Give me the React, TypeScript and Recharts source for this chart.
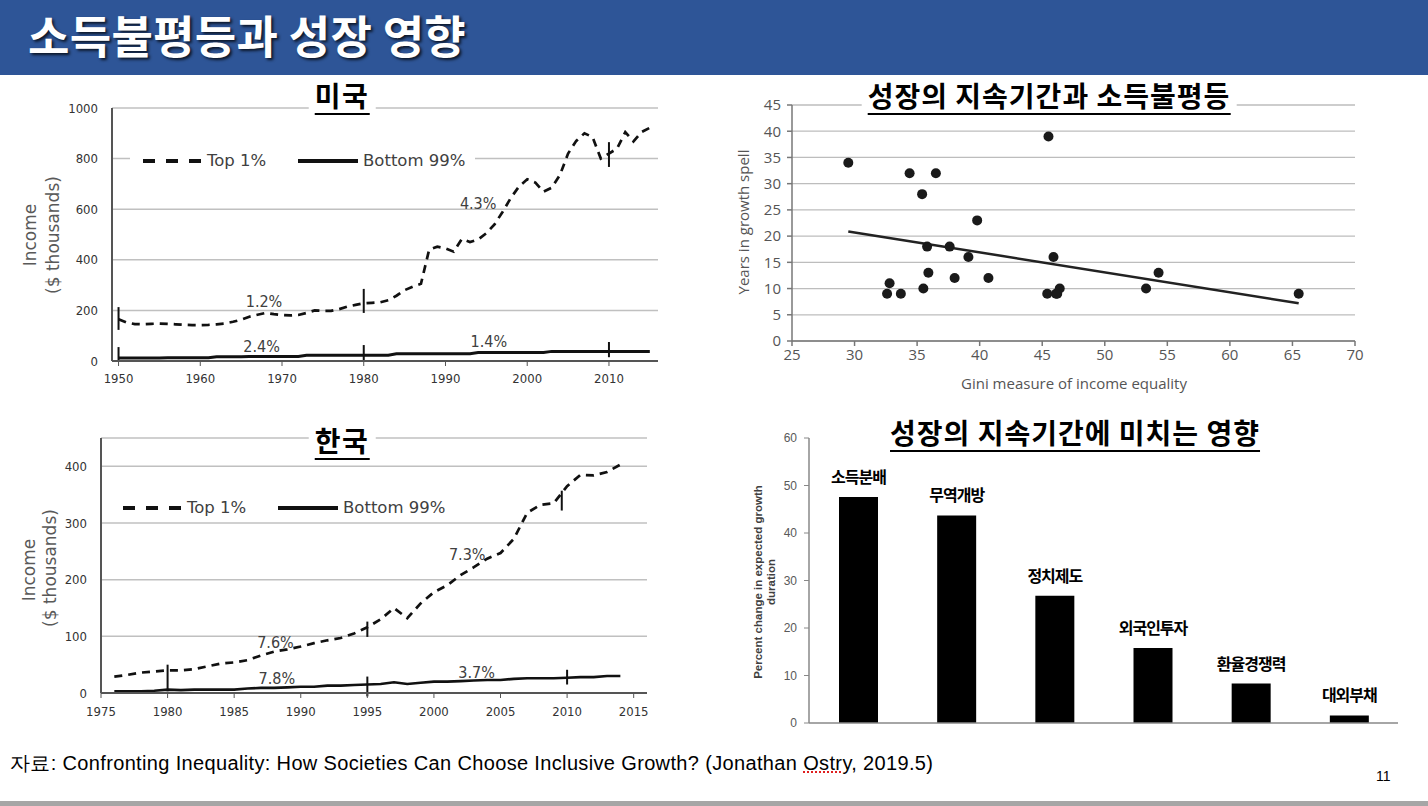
import React from 'react'
import {
  LineChart, Line, XAxis, YAxis, CartesianGrid, ReferenceLine, ReferenceDot,
  ScatterChart, Scatter, BarChart, Bar, LabelList,
} from 'recharts'

// ---- 미국: Top 1% / Bottom 99% income ($ thousands) ----
const usYears = [
  1950, 1951, 1952, 1953, 1954, 1955, 1956, 1957, 1958, 1959,
  1960, 1961, 1962, 1963, 1964, 1965, 1966, 1967, 1968, 1969,
  1970, 1971, 1972, 1973, 1974, 1975, 1976, 1977, 1978, 1979,
  1980, 1981, 1982, 1983, 1984, 1985, 1986, 1987, 1988, 1989,
  1990, 1991, 1992, 1993, 1994, 1995, 1996, 1997, 1998, 1999,
  2000, 2001, 2002, 2003, 2004, 2005, 2006, 2007, 2008, 2009,
  2010, 2011, 2012, 2013, 2014, 2015,
]
const usTop1 = [
  165, 152, 146, 145, 147, 148, 147, 145, 143, 142,
  142, 143, 145, 148, 155, 163, 175, 183, 190, 185,
  182, 180, 182, 190, 200, 198, 198, 205, 215, 222,
  228, 230, 232, 240, 258, 280, 294, 305, 440, 452,
  445, 432, 482, 470, 480, 505, 540, 590, 645, 690,
  718, 705, 669, 685, 735, 820, 870, 900, 885, 800,
  820, 840, 905, 868, 905, 922,
]
const usBottom99 = [
  12, 12, 12, 12, 12, 12, 13, 13, 13, 13,
  13, 13, 17, 17, 17, 17, 18, 18, 18, 18,
  18, 18, 18, 23, 23, 23, 23, 23, 23, 23,
  23, 23, 23, 23, 29, 29, 29, 29, 29, 29,
  29, 29, 29, 29, 34, 34, 34, 34, 34, 34,
  34, 34, 34, 38, 38, 38, 38, 38, 38, 38,
  38, 38, 38, 38, 38, 38,
]
const usXTicks = [1950, 1960, 1970, 1980, 1990, 2000, 2010]
const usYTicks = [0, 200, 400, 600, 800, 1000]
const usMarkers = [
  { year: 1950, from: 123, to: 213 },
  { year: 1950, from: 4, to: 55 },
  { year: 1980, from: 190, to: 285 },
  { year: 1980, from: 4, to: 63 },
  { year: 2010, from: 767, to: 865 },
  { year: 2010, from: 15, to: 75 },
]
const usNotes = [
  { year: 1967.8, value: 234, text: '1.2%' },
  { year: 1967.5, value: 56, text: '2.4%' },
  { year: 1994.0, value: 623, text: '4.3%' },
  { year: 1995.3, value: 76, text: '1.4%' },
]

// ---- 한국 ----
const krYears = [
  1976, 1977, 1978, 1979, 1980, 1981, 1982, 1983, 1984, 1985,
  1986, 1987, 1988, 1989, 1990, 1991, 1992, 1993, 1994, 1995,
  1996, 1997, 1998, 1999, 2000, 2001, 2002, 2003, 2004, 2005,
  2006, 2007, 2008, 2009, 2010, 2011, 2012, 2013, 2014,
]
const krTop1 = [
  29, 32, 36, 38, 40, 40, 42, 47, 52, 54,
  58, 66, 73, 77, 82, 88, 93, 97, 105, 116,
  130, 150, 132, 158, 178, 190, 208, 222, 237, 247,
  272, 318, 332, 335, 365, 385, 384, 390, 403,
]
const krBottom99 = [
  3, 3, 3, 4, 6, 5, 6, 6, 6, 6,
  8, 9, 9, 10, 11, 11, 13, 13, 14, 15,
  16, 19, 16, 18, 20, 20, 21, 22, 23, 23,
  25, 26, 26, 26, 27, 28, 28, 30, 30,
]
const krXTicks = [1975, 1980, 1985, 1990, 1995, 2000, 2005, 2010, 2015]
const krYTicks = [0, 100, 200, 300, 400]
const krMarkers = [
  { year: 1980, from: 3, to: 50 },
  { year: 1995, from: 99, to: 126 },
  { year: 1995, from: -6, to: 29 },
  { year: 2009.6, from: 322, to: 357 },
  { year: 2010, from: 15, to: 41 },
]
const krNotes = [
  { year: 1988.1, value: 90, text: '7.6%' },
  { year: 1988.2, value: 26, text: '7.8%' },
  { year: 2002.5, value: 244, text: '7.3%' },
  { year: 2003.2, value: 37, text: '3.7%' },
]

// ---- 성장의 지속기간과 소득불평등 ----
const giniX = [
  29.5, 34.4, 36.5, 35.4, 39.8, 45.5, 35.8, 37.6, 39.1, 45.9, 35.9, 38.0,
  40.7, 54.3, 32.8, 32.6, 33.7, 35.5, 45.4, 46.2, 46.4, 46.1, 53.3, 65.5,
]
const spellYears = [
  34, 32, 32, 28, 23, 39, 18, 18, 16, 16, 13, 12,
  12, 13, 11, 9, 9, 10, 9, 9, 10, 9, 10, 9,
]
const trendX = [29.5, 65.5]
const trendY = [20.9, 7.2]
const giniTicks = [25, 30, 35, 40, 45, 50, 55, 60, 65, 70]
const spellTicks = [0, 5, 10, 15, 20, 25, 30, 35, 40, 45]

// ---- 성장의 지속기간에 미치는 영향 ----
const factorNames = ['소득분배', '무역개방', '정치제도', '외국인투자', '환율경쟁력', '대외부채']
const factorValues = [47.6, 43.7, 26.8, 15.8, 8.3, 1.6]
const factorTicks = [0, 10, 20, 30, 40, 50, 60]

const usData = usYears.map((year, i) => ({ year, top1: usTop1[i], bottom99: usBottom99[i] }))
const krData = krYears.map((year, i) => ({ year, top1: krTop1[i], bottom99: krBottom99[i] }))
const scatterData = giniX.map((x, i) => ({ x, y: spellYears[i] }))
const barData = factorNames.map((name, i) => ({ name, value: factorValues[i] }))

const condensed = "'DejaVu Sans Condensed', 'DejaVu Sans', sans-serif"
const dejavu = "'DejaVu Sans', sans-serif"
const kr = "'Noto Sans CJK KR', sans-serif"
const arial = "'Liberation Sans', Arial, sans-serif"
const openSans = "'Open Sans', sans-serif"

const Rotated = ({ text, cx, cy, style }: { text: string; cx: number; cy: number; style?: React.CSSProperties }) => (
  <div
    style={{
      position: 'absolute', left: cx, top: cy, whiteSpace: 'nowrap', lineHeight: 1,
      transform: 'translate(-50%, -50%) rotate(-90deg)', ...style,
    }}
  >
    {text}
  </div>
)

const Title = ({ text, cx, top, spacing = 1.5 }: { text: string; cx: number; top: number; spacing?: number }) => (
  <div
    style={{
      position: 'absolute', left: cx, top, transform: 'translateX(-50%)', background: '#fff',
      padding: '0 6px', whiteSpace: 'nowrap',
    }}
  >
    <span
      style={{
        display: 'inline-block', fontFamily: kr, fontWeight: 700, fontSize: 28, lineHeight: '28px',
        letterSpacing: spacing, color: '#000', borderBottom: '2.5px solid #000', paddingBottom: 4,
      }}
    >
      {text}
    </span>
  </div>
)

const LegendBox = ({ left, top }: { left: number; top: number }) => (
  <div style={{ position: 'absolute', left, top, width: 345, height: 20, background: '#fff' }}>
    <svg width={345} height={20} style={{ position: 'absolute', left: 0, top: 0 }}>
      <line x1={13} y1={10} x2={73} y2={10} stroke="#111" strokeWidth={4} strokeDasharray="12 11" />
      <line x1={168} y1={10} x2={228} y2={10} stroke="#111" strokeWidth={4} />
    </svg>
    <span style={{ position: 'absolute', left: 77, top: 0, fontFamily: dejavu, fontSize: 16.5, lineHeight: '20px', color: '#404040' }}>
      Top 1%
    </span>
    <span style={{ position: 'absolute', left: 233, top: 0, fontFamily: dejavu, fontSize: 16.5, lineHeight: '20px', color: '#404040' }}>
      Bottom 99%
    </span>
  </div>
)

const noteShape = (text: string) => (p: any) => (
  <text
    x={p.cx} y={p.cy} textAnchor="middle" dominantBaseline="central"
    fill="#404040" fontSize={16} fontFamily={condensed}
  >
    {text}
  </text>
)

const incomeTick = { fill: '#333', fontSize: 13, fontFamily: condensed }
const darkAxis = { stroke: '#555', strokeWidth: 2 }

const FactorLabel = (props: any) => {
  const { x, y, width, value } = props
  return (
    <text
      x={x + width / 2} y={y - 21} textAnchor="middle" dominantBaseline="central"
      fill="#000" fontSize={16} fontWeight={700} fontFamily={kr} letterSpacing={-1}
    >
      {value}
    </text>
  )
}

const Dot = (p: any) => <circle cx={p.cx} cy={p.cy} r={5} fill="#1a1a1a" />

export default function App() {
  return (
    <div style={{ position: 'absolute', left: 0, top: 0, width: 1428, height: 806, background: '#fff', overflow: 'hidden' }}>
      {/* header */}
      <div style={{ position: 'absolute', left: 0, top: 0, width: 1428, height: 75, background: '#2E5597' }} />
      <div
        style={{
          position: 'absolute', left: 28, top: 2, fontFamily: kr, fontWeight: 700, fontSize: 45,
          lineHeight: '66px', letterSpacing: 0.3, color: '#fff', whiteSpace: 'nowrap',
          textShadow: '2px 2px 3px rgba(0,0,0,0.75)',
        }}
      >
        소득불평등과 성장 영향
      </div>

      {/* 미국 */}
      <div style={{ position: 'absolute', left: 0, top: 90 }}>
        <LineChart width={680} height={310} data={usData} margin={{ top: 18, right: 22, bottom: 9, left: 0 }}>
          <CartesianGrid vertical={false} stroke="#c0c0c0" strokeWidth={1.5} />
          <XAxis
            dataKey="year" type="number" domain={[1949.2, 2016]} ticks={usXTicks} height={30}
            tickSize={5} tickMargin={8} axisLine={darkAxis} tickLine={{ stroke: '#555' }} tick={incomeTick}
          />
          <YAxis
            domain={[0, 1000]} ticks={usYTicks} width={112} tickSize={0} tickMargin={14} interval={0}
            axisLine={darkAxis} tickLine={false} tick={incomeTick}
          />
          <Line dataKey="top1" stroke="#111" strokeWidth={2.7} strokeDasharray="8 6" dot={false} isAnimationActive={false} />
          <Line dataKey="bottom99" stroke="#111" strokeWidth={3} dot={false} isAnimationActive={false} />
          {usMarkers.map((m, i) => (
            <ReferenceLine
              key={i} segment={[{ x: m.year, y: m.from }, { x: m.year, y: m.to }]}
              stroke="#111" strokeWidth={2} ifOverflow="visible"
            />
          ))}
          {usNotes.map((n, i) => (
            <ReferenceDot key={i} x={n.year} y={n.value} r={0} shape={noteShape(n.text)} />
          ))}
        </LineChart>
      </div>

      {/* 한국 */}
      <div style={{ position: 'absolute', left: 0, top: 430 }}>
        <LineChart width={680} height={300} data={krData} margin={{ top: 8, right: 33, bottom: 7, left: 0 }}>
          <CartesianGrid vertical={false} stroke="#c0c0c0" strokeWidth={1.5} />
          <XAxis
            dataKey="year" type="number" domain={[1975, 2016]} ticks={krXTicks} height={30}
            tickSize={5} tickMargin={9} axisLine={darkAxis} tickLine={{ stroke: '#555' }} tick={incomeTick}
          />
          <YAxis
            domain={[0, 450]} ticks={krYTicks} width={101} tickSize={0} tickMargin={14} interval={0}
            axisLine={darkAxis} tickLine={false} tick={incomeTick}
          />
          <Line dataKey="top1" stroke="#111" strokeWidth={2.7} strokeDasharray="8 6" dot={false} isAnimationActive={false} />
          <Line dataKey="bottom99" stroke="#111" strokeWidth={2.6} dot={false} isAnimationActive={false} />
          {krMarkers.map((m, i) => (
            <ReferenceLine
              key={i} segment={[{ x: m.year, y: m.from }, { x: m.year, y: m.to }]}
              stroke="#111" strokeWidth={2} ifOverflow="visible"
            />
          ))}
          {krNotes.map((n, i) => (
            <ReferenceDot key={i} x={n.year} y={n.value} r={0} shape={noteShape(n.text)} />
          ))}
        </LineChart>
      </div>

      {/* scatter */}
      <div style={{ position: 'absolute', left: 720, top: 90 }}>
        <ScatterChart width={660} height={310} margin={{ top: 15, right: 25, bottom: 19, left: 0 }}>
          <CartesianGrid vertical={false} stroke="#bdbdbd" strokeWidth={1.3} />
          <XAxis
            dataKey="x" type="number" domain={[25, 70]} ticks={giniTicks} height={40} interval={0}
            tickSize={5} tickMargin={3} axisLine={{ stroke: '#777', strokeWidth: 1.5 }}
            tickLine={{ stroke: '#777', strokeWidth: 1.5 }} tick={{ fill: '#555', fontSize: 15, fontFamily: openSans }}
          />
          <YAxis
            dataKey="y" type="number" domain={[0, 45]} ticks={spellTicks} width={72} interval={0}
            tickSize={5} tickMargin={6} axisLine={{ stroke: '#777', strokeWidth: 1.5 }}
            tickLine={{ stroke: '#777', strokeWidth: 1.5 }} tick={{ fill: '#555', fontSize: 15, fontFamily: openSans }}
          />
          <ReferenceLine
            segment={[{ x: trendX[0], y: trendY[0] }, { x: trendX[1], y: trendY[1] }]}
            stroke="#222" strokeWidth={2.5}
          />
          <Scatter data={scatterData} shape={Dot} isAnimationActive={false} />
        </ScatterChart>
      </div>

      {/* bars */}
      <div style={{ position: 'absolute', left: 720, top: 420 }}>
        <BarChart width={680} height={310} data={barData} margin={{ top: 18, right: 2, bottom: 5, left: 0 }}>
          <XAxis dataKey="name" height={2} tick={false} tickLine={false} axisLine={{ stroke: '#888', strokeWidth: 1.5 }} />
          <YAxis
            domain={[0, 60]} ticks={factorTicks} width={89} tickSize={5} tickMargin={7} interval={0}
            axisLine={{ stroke: '#888', strokeWidth: 1.5 }} tickLine={{ stroke: '#888' }}
            tick={{ fill: '#595959', fontSize: 12, fontFamily: arial }}
          />
          <Bar dataKey="value" fill="#000" barSize={39} isAnimationActive={false}>
            <LabelList dataKey="name" content={FactorLabel} />
          </Bar>
        </BarChart>
      </div>

      {/* axis titles */}
      <Rotated text="Income" cx={30} cy={235} style={{ fontFamily: dejavu, fontSize: 17, color: '#595959' }} />
      <Rotated text="($ thousands)" cx={53} cy={235} style={{ fontFamily: dejavu, fontSize: 17, color: '#595959' }} />
      <Rotated text="Income" cx={29} cy={570} style={{ fontFamily: dejavu, fontSize: 17, color: '#595959' }} />
      <Rotated text="($ thousands)" cx={50} cy={568} style={{ fontFamily: dejavu, fontSize: 17, color: '#595959' }} />
      <Rotated text="Years in growth spell" cx={743} cy={222} style={{ fontFamily: openSans, fontSize: 15, color: '#555' }} />
      <div
        style={{
          position: 'absolute', left: 1074, top: 383, transform: 'translate(-50%, -50%)', whiteSpace: 'nowrap',
          fontFamily: openSans, fontSize: 15, color: '#555', lineHeight: 1,
        }}
      >
        Gini measure of income equality
      </div>
      <Rotated
        text="Percent change in expected growth" cx={759} cy={582}
        style={{ fontFamily: arial, fontSize: 11.5, fontWeight: 700, color: '#404040' }}
      />
      <Rotated text="duration" cx={772} cy={582} style={{ fontFamily: arial, fontSize: 11.5, fontWeight: 700, color: '#404040' }} />

      {/* legends */}
      <LegendBox left={130} top={151} />
      <LegendBox left={110} top={498} />

      {/* titles */}
      <Title text="미국" cx={342} top={81} />
      <Title text="한국" cx={342} top={426} />
      <Title text="성장의 지속기간과 소득불평등" cx={1049} top={81} spacing={1} />
      <Title text="성장의 지속기간에 미치는 영향" cx={1075} top={418} spacing={1} />

      {/* footer */}
      <div
        style={{
          position: 'absolute', left: 10, top: 750, fontFamily: arial, fontSize: 20, lineHeight: '26px',
          letterSpacing: 0.35, color: '#000', whiteSpace: 'nowrap',
        }}
      >
        자료: Confronting Inequality: How Societies Can Choose Inclusive Growth? (Jonathan{' '}
        <span style={{ textDecorationLine: 'underline', textDecorationStyle: 'dotted', textDecorationColor: '#e02020', textDecorationThickness: 2 }}>
          Ostry
        </span>
        , 2019.5)
      </div>
      <div style={{ position: 'absolute', left: 1376, top: 767, fontFamily: arial, fontSize: 14, lineHeight: '18px', color: '#000' }}>
        11
      </div>
      <div style={{ position: 'absolute', left: 0, top: 801, width: 1428, height: 5, background: '#a6a6a6' }} />
    </div>
  )
}
